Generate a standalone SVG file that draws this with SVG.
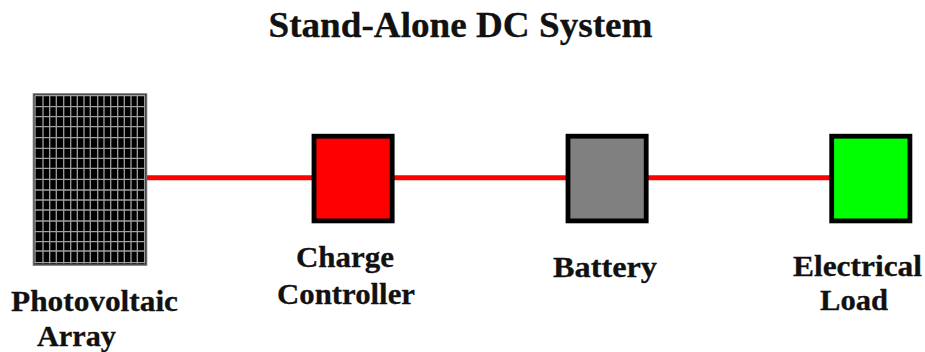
<svg xmlns="http://www.w3.org/2000/svg" width="925" height="352" viewBox="0 0 925 352">
<style>
.t{font-family:"Liberation Serif","Times New Roman",serif;font-weight:bold;fill:#111;stroke:#111;stroke-width:.3;text-anchor:middle;font-size:30px}
.b{stroke:#000;stroke-width:4.8}
.c{stroke:#f00;stroke-width:5;fill:none}
.g{stroke:#a0a0a0;stroke-width:1.3;fill:none}
</style>
<rect width="925" height="352" fill="#fff"/>
<text class="t" x="460.500" y="37" style="font-size:36px" textLength="384" lengthAdjust="spacingAndGlyphs">Stand-Alone DC System</text>
<g id="connectors">
<path class="c" d="M146 177.700H834"/>
</g>
<g id="pv-array">
<rect x="33.500" y="94" width="113" height="171" fill="#000" stroke="#666" stroke-width="1.5"/>
<path class="g" d="M35 95.500V263.500M43 95.500V263.500M49.700 95.500V263.500M56.300 95.500V263.500M63.700 95.500V263.500M70.700 95.500V263.500M77.300 95.500V263.500M84 95.500V263.500M90.300 95.500V263.500M97.700 95.500V263.500M104 95.500V263.500M110.700 95.500V263.500M117.700 95.500V263.500M124.300 95.500V263.500M131 95.500V263.500M137.300 95.500V263.500M144.700 95.500V263.500"/>
<path class="g" d="M35 95.700H145M35 106.700H145M35 116.700H145M35 126.700H145M35 137.700H145M35 148.300H145M35 158.300H145M35 168.300H145M35 179.300H145M35 190H145M35 200H145M35 210H145M35 221H145M35 231.700H145M35 241.700H145M35 251H145M35 262.700H145"/>
<text class="t" x="94.500" y="311" textLength="167" lengthAdjust="spacingAndGlyphs">Photovoltaic</text>
<text class="t" x="76.500" y="346" textLength="79" lengthAdjust="spacingAndGlyphs">Array</text>
</g>
<g id="charge-controller">
<rect class="b" x="314" y="136.200" width="78.200" height="84.700" fill="#f00"/>
<text class="t" x="345" y="267" textLength="98" lengthAdjust="spacingAndGlyphs">Charge</text>
<text class="t" x="346" y="304" textLength="138" lengthAdjust="spacingAndGlyphs">Controller</text>
</g>
<g id="battery">
<rect class="b" x="568" y="136.200" width="78.200" height="84.700" fill="#808080"/>
<text class="t" x="605" y="277" textLength="104" lengthAdjust="spacingAndGlyphs">Battery</text>
</g>
<g id="electrical-load">
<rect class="b" x="831.700" y="136.200" width="78.200" height="84.700" fill="#0f0"/>
<text class="t" x="857.500" y="276" textLength="129" lengthAdjust="spacingAndGlyphs">Electrical</text>
<text class="t" x="854" y="310" textLength="68" lengthAdjust="spacingAndGlyphs">Load</text>
</g>
</svg>
